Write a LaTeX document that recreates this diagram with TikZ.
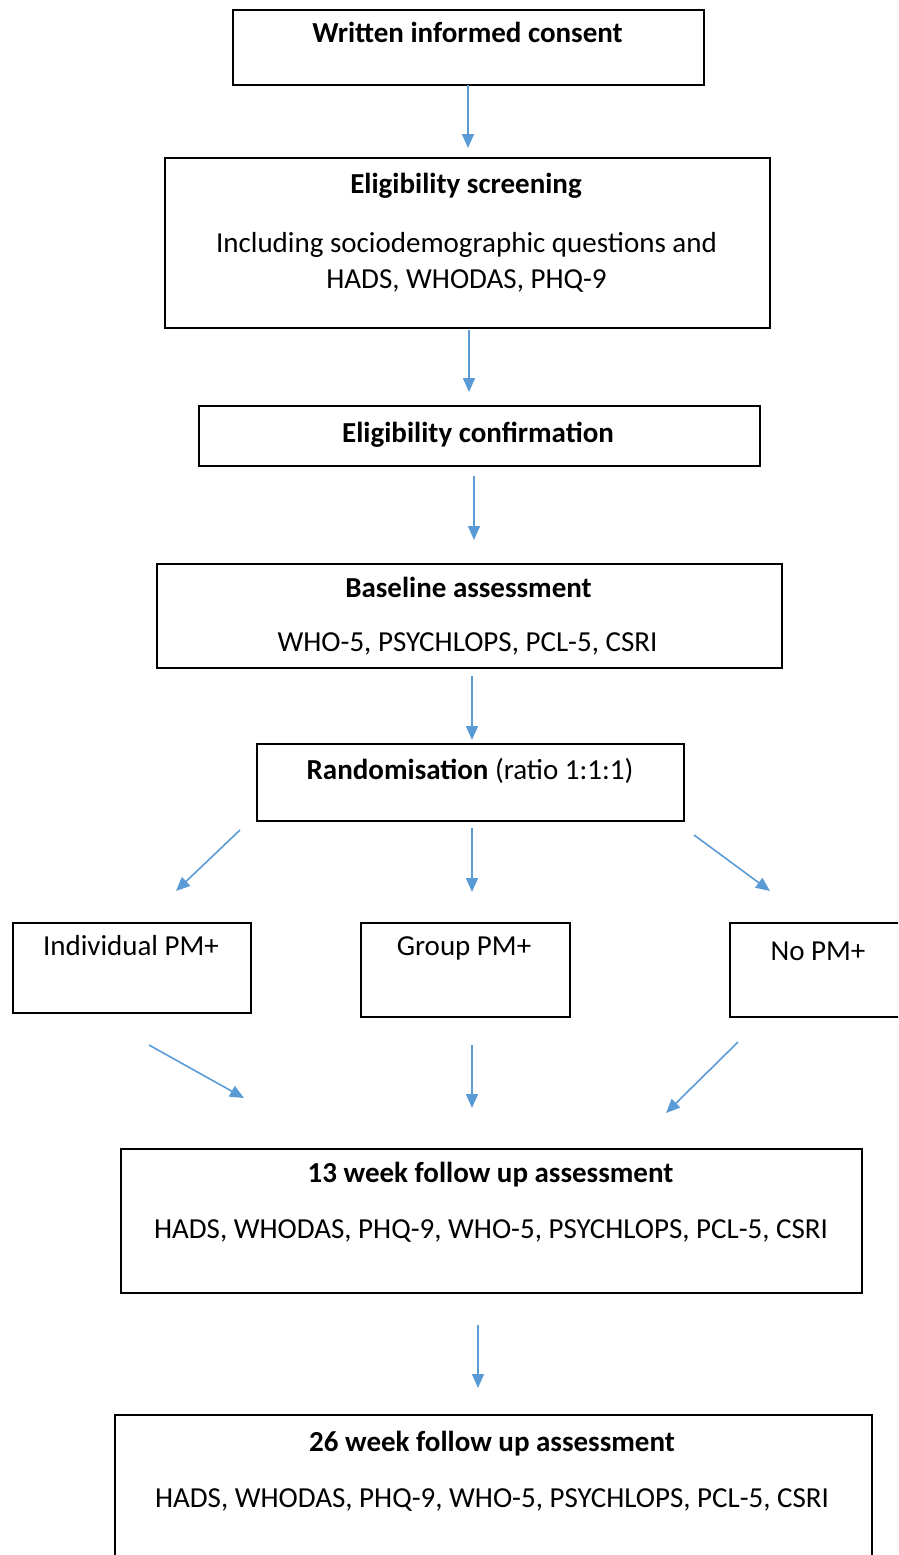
\documentclass[tikz,border=0pt]{standalone}
\usepackage{fontspec}
\setmainfont{Carlito}
\usetikzlibrary{arrows.meta}

\definecolor{flowblue}{HTML}{5B9BD5}

\begin{document}
\begin{tikzpicture}[x=1pt,y=-1pt,
	stage/.style 2 args={rectangle,draw,line width=1.6pt,minimum width=#1,minimum height=#2,inner sep=0pt},
	head/.style={anchor=base,font=\fontsize{29}{34}\selectfont\bfseries,inner sep=0pt},
	info/.style={anchor=base,font=\fontsize{29}{34}\selectfont,inner sep=0pt},
	flow/.style={-{Triangle[length=14pt,width=12pt]},draw=flowblue,fill=flowblue,line width=1.6pt}
]

	\clip (0,0) rectangle (898,1555);

	% boxes
	\node[stage={471pt}{75pt}]  (consent)  at (468.5,47.5) {};
	\node[stage={605pt}{170pt}] (screen)   at (467.5,243)  {};
	\node[stage={561pt}{60pt}]  (confirm)  at (479.5,436)  {};
	\node[stage={625pt}{104pt}] (baseline) at (469.5,616)  {};
	\node[stage={427pt}{77pt}]  (random)   at (470.5,782.5) {};
	\node[stage={238pt}{90pt}]  (indiv)    at (132,968)    {};
	\node[stage={209pt}{94pt}]  (group)    at (465.5,970)  {};
	\node[stage={176pt}{94pt}]  (nopm)     at (818,970)    {};
	\node[stage={741pt}{144pt}] (week13)   at (491.5,1221) {};
	\node[stage={757pt}{185pt}] (week26)   at (493.5,1507.5) {};

	% texts
	\node[head] (consent-t)  at (467.5,43)  {Written informed consent};
	\node[head] (screen-t)   at (466,193)   {Eligibility screening};
	\node[info] (screen-a)   at (466.5,252) {Including sociodemographic questions and};
	\node[info] (screen-b)   at (466.5,288) {HADS, WHODAS, PHQ-9};
	\node[head] (confirm-t)  at (478,442)   {Eligibility confirmation};
	\node[head] (baseline-t) at (468.5,597) {Baseline assessment};
	\node[info] (baseline-a) at (467.5,651) {WHO-5, PSYCHLOPS, PCL-5, CSRI};
	\node[info] (random-t)   at (470,779)   {\textbf{Randomisation} (ratio 1:1:1)};
	\node[info] (indiv-t)    at (131,955)   {Individual PM+};
	\node[info] (group-t)    at (464,955)   {Group PM+};
	\node[info] (nopm-t)     at (818,960)   {No PM+};
	\node[head] (week13-t)   at (490.5,1182) {13 week follow up assessment};
	\node[info] (week13-a)   at (491,1238)  {HADS, WHODAS, PHQ-9, WHO-5, PSYCHLOPS, PCL-5, CSRI};
	\node[head] (week26-t)   at (492,1451)  {26 week follow up assessment};
	\node[info] (week26-a)   at (492,1507)  {HADS, WHODAS, PHQ-9, WHO-5, PSYCHLOPS, PCL-5, CSRI};

	% arrow ends
	\coordinate (c1s) at (468,85);   \coordinate (c1e) at (468,148);
	\coordinate (c2s) at (469,330);  \coordinate (c2e) at (469,392);
	\coordinate (c3s) at (474,476);  \coordinate (c3e) at (474,540);
	\coordinate (c4s) at (472,676);  \coordinate (c4e) at (472,740);
	\coordinate (c5s) at (240,830);  \coordinate (c5e) at (176,891);
	\coordinate (c6s) at (472,828);  \coordinate (c6e) at (472,892);
	\coordinate (c7s) at (694,835);  \coordinate (c7e) at (770,891);
	\coordinate (c8s) at (149,1045); \coordinate (c8e) at (244,1098);
	\coordinate (c9s) at (472,1045); \coordinate (c9e) at (472,1108);
	\coordinate (c10s) at (738,1042); \coordinate (c10e) at (666,1113);
	\coordinate (c11s) at (478,1325); \coordinate (c11e) at (478,1388);

	\foreach \s in {1,...,11} {
		\draw[flow] (c\s s) -- (c\s e);
	}
\end{tikzpicture}
\end{document}
